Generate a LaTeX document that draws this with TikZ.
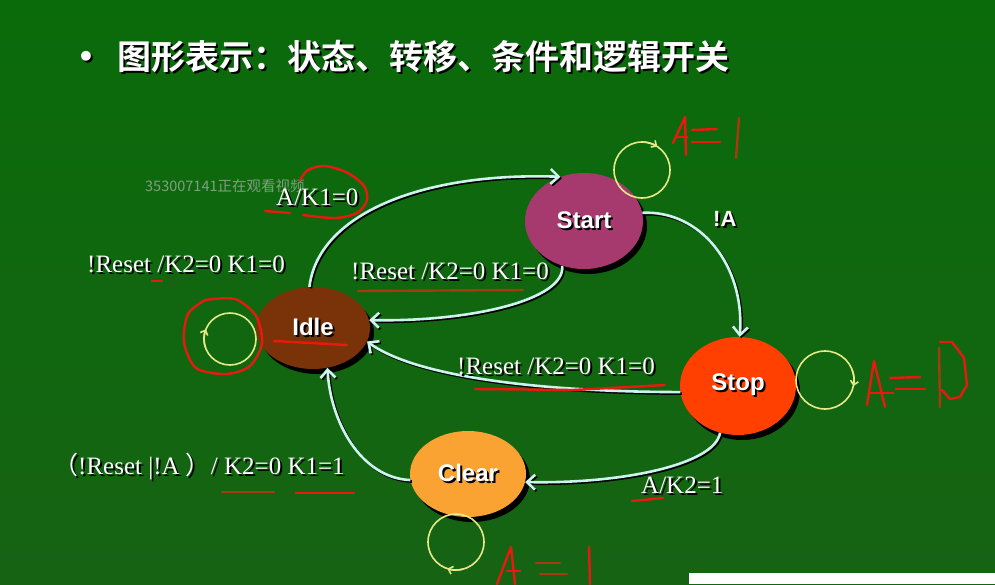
\documentclass[tikz,border=0pt]{standalone}
\usepackage{fontspec}
\setmainfont{Liberation Serif}
\setsansfont{Liberation Sans}
\newfontfamily\cjk{Noto Sans CJK SC}[BoldFont={* Bold}]
\usetikzlibrary{shapes.geometric,arrows.meta,calc,shadows}
\definecolor{bgtop}{HTML}{0A6B0A}
\definecolor{bgbot}{HTML}{166314}
\definecolor{startc}{HTML}{A63A6E}
\definecolor{idlec}{HTML}{7A3208}
\definecolor{stopc}{HTML}{FF4000}
\definecolor{clearc}{HTML}{FAA232}
\definecolor{arrowc}{HTML}{CCF4EE}
\definecolor{yel}{HTML}{E8E888}
\definecolor{penred}{HTML}{E81A10}
\definecolor{penbrown}{HTML}{A83A10}
\definecolor{wmc}{HTML}{7FA07F}
\newcommand\sh[1]{\rlap{\kern2pt\raisebox{-2pt}{\color{black}#1}}#1}
\begin{document}
\begin{tikzpicture}[x=1pt,y=-1pt,
  state/.style={ellipse, draw=none, inner sep=0pt, text=white,
    font=\sffamily\bfseries\fontsize{24}{24}\selectfont,
    drop shadow={shadow xshift=4pt, shadow yshift=-5pt, opacity=1, fill=black}},
  lbl/.style={text=white, inner sep=0pt, anchor=west, font=\fontsize{25}{25}\selectfont},
  conn/.style={draw=arrowc, line width=2.6pt, -{Straight Barb[length=8pt,width=15pt]},
    preaction={draw=black, line width=2.6pt, transform canvas={shift={(1.5pt,-1.5pt)}}}},
  yloop/.style={draw=yel, line width=1.6pt},
  ytip/.style={yloop, -{Straight Barb[length=4pt,width=8pt]}},
  pen/.style={draw=penred, line width=2.4pt, line cap=round, line join=round},
  penb/.style={pen, draw=penbrown},
]
\useasboundingbox (0,0) rectangle (995,584);
\shade[top color=bgtop, bottom color=bgbot] (0,0) rectangle (995,584);
\fill[white] (689,573) rectangle (995,584);

% title
\node[text=white, font=\sffamily\bfseries\fontsize{34}{34}\selectfont] (bul) at (86,60) {\sh{•}};
\node[text=white, anchor=west, inner sep=0pt, font=\cjk\bfseries\fontsize{34}{34}\selectfont] (title) at (117,58) {\sh{图形表示：状态、转移、条件和逻辑开关}};

% watermark
\node[text=wmc, anchor=west, inner sep=0pt, font=\cjk\fontsize{14.5}{14.5}\selectfont] (wm) at (145,186) {353007141正在观看视频};

% states
\node[state, fill=startc, minimum width=118pt, minimum height=96pt] (start) at (584,221) {\sh{Start}};
\node[state, fill=idlec, minimum width=114pt, minimum height=82pt] (idle) at (313,328) {\sh{Idle}};
\node[state, fill=stopc, minimum width=116pt, minimum height=98pt] (stop) at (738,386) {\sh{Stop}};
\node[state, fill=clearc, minimum width=116pt, minimum height=86pt] (clear) at (468,474) {\sh{Clear}};

% connectors
\draw[conn] (idle.95) .. controls (318,215) and (420,172) .. (start.118);
\draw[conn] (start.244) .. controls (566,300) and (470,322) .. (idle.8);
\draw[conn] (stop.186) .. controls (560,392) and (420,380) .. (idle.-14);
\draw[conn] (start.8) .. controls (700,210) and (745,265) .. (stop.88);
\draw[conn] (stop.249) .. controls (715,465) and (620,484) .. (clear.-8);
\draw[conn] (clear.186) .. controls (360,478) and (330,420) .. (idle.-70);

% labels
\node[lbl] (l1) at (276,198) {\sh{A/K1=0}};
\node[lbl] (l2) at (87,265) {\sh{!Reset /K2=0 K1=0}};
\node[lbl] (l3) at (351,272) {\sh{!Reset /K2=0 K1=0}};
\node[lbl] (l4) at (457,367) {\sh{!Reset /K2=0 K1=0}};
\node[lbl] (l5) at (641,486) {\sh{A/K2=1}};
\node[lbl] (l6) at (53,467) {\sh{{\cjk （}!Reset |!A {\cjk ）}/ K2=0 K1=1}};
\node[lbl, font=\sffamily\bfseries\fontsize{22}{22}\selectfont] (l7) at (713,220) {\sh{!A}};

% self loops
\coordinate (cS) at (642,170);
\draw[yloop] (cS) circle[radius=28];
\draw[ytip] ($(cS)+(-90:28)$) arc[start angle=-90, end angle=-57, radius=28];
\coordinate (cI) at (230,339);
\draw[yloop] (cI) circle[radius=26];
\draw[ytip] ($(cI)+(-200:26)$) arc[start angle=-200, end angle=-158, radius=26];
\coordinate (cP) at (825,380);
\draw[yloop] (cP) circle[radius=29];
\draw[ytip] ($(cP)+(-20:29)$) arc[start angle=-20, end angle=12, radius=29];
\coordinate (cC) at (456,542);
\draw[yloop] (cC) circle[radius=28];
\draw[ytip] ($(cC)+(75:28)$) arc[start angle=75, end angle=108, radius=28];

% red handwriting: A=1 (top)
\draw[pen] (673,143) -- (685,117) -- (686,155);
\draw[pen] (676,137) -- (687,137);
\draw[pen] (692,130) -- (717,129);
\draw[pen] (692,142) -- (720,142);
\draw[penb] (739,118) -- (736,158);
% A=0
\draw[pen] (867,405) -- (874,361) -- (885,407);
\draw[pen] (869,393) -- (893,393);
\draw[pen] (890,378) -- (920,377);
\draw[pen] (896,389) -- (925,389);
\draw[penb] (939,348) -- (940,407);
\draw[pen] (940,342) -- (952,342) -- (964,358) -- (967,385) -- (960,397) -- (950,399) -- (942,390);
% A=1 (bottom)
\draw[pen] (497,584) -- (511,547) -- (515,584);
\draw[pen] (507,571) -- (520,571);
\draw[penb] (536,563) -- (560,563);
\draw[penb] (540,574) -- (567,574);
\draw[pen] (589,547) -- (590,584);

% red marks
\draw[pen] (265,211) -- (290,213);
\draw[pen] plot[smooth] coordinates {(303,215) (335,218) (357,213) (367,200) (364,186) (348,173) (325,166) (308,170) (300,180)};
\draw[pen] (152,281) -- (162,281);
\draw[penb] (358,291) -- (523,290);
\draw[pen] (274,341) -- (347,345);
\draw[pen] plot[smooth] coordinates {(205,300) (235,299) (256,316) (262,343) (250,366) (226,374) (196,368) (184,342) (188,314) (205,300)};
\draw[pen] (475,389) -- (573,390) -- (665,385);
\draw[penb] (222,492) -- (274,492);
\draw[pen] (296,493) -- (354,493);
\draw[pen] (632,501) -- (663,498);
\end{tikzpicture}
\end{document}
